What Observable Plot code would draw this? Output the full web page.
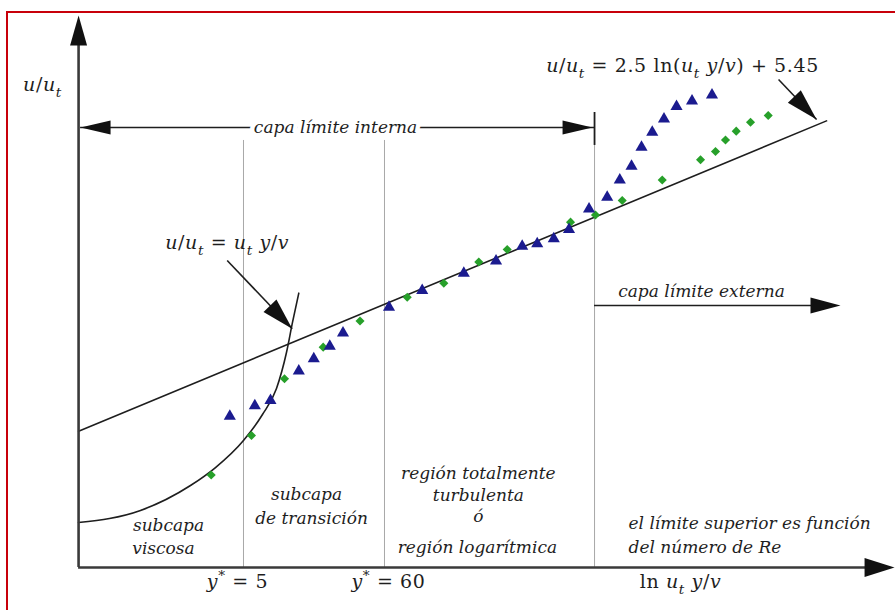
<!DOCTYPE html>
<html>
<head>
<meta charset="utf-8">
<script src="https://cdn.jsdelivr.net/npm/d3@7"></script>
<script src="https://cdn.jsdelivr.net/npm/@observablehq/plot@0.6"></script>
<style>
  html, body { margin: 0; padding: 0; background: #fff; overflow: hidden; width: 895px; height: 610px; }
  #wrap { position: relative; width: 895px; height: 610px; }
  #wrap svg { position: absolute; left: 0; top: 0; }
  #border { position: absolute; left: 6px; top: 11px; width: 905px; height: 620px;
            border: 2px solid #c8000a; pointer-events: none; z-index: 2; }
</style>
</head>
<body>
<div id="wrap"><div id="border"></div></div>
<script>
// Law of the wall: u/u_t against ln(u_t y / v)
// x = ln(y+), y = u+

// log-law constants (also written into the equation label)
const logSlope = 2.5;
const logIntercept = 5.45;

// sublayer limits in y+
const yPlusLimits = [5, 60];
// inner / outer layer boundary, in ln(y+)
const outerStart = 7.796;

// measured profile, series 1 (triangles)
const triX = [1.368, 1.809, 2.085, 2.584, 2.848, 3.130, 3.363, 4.174, 4.759, 5.492, 6.060, 6.521, 6.786,
              7.078, 7.346, 7.699, 8.019, 8.241, 8.448, 8.624, 8.813, 9.020, 9.241, 9.514, 9.866];
const triU = [3.81, 4.92, 5.48, 8.61, 9.90, 11.24, 12.64, 15.38, 17.15, 18.99, 20.29, 21.86, 22.11,
              22.64, 23.63, 25.81, 27.06, 28.89, 30.35, 32.37, 33.96, 35.36, 36.69, 37.27, 37.91];

// measured profile, series 2 (diamonds)
const diaX = [1.040, 1.750, 2.332, 3.014, 3.663, 4.495, 5.140, 5.756, 6.257, 7.373, 7.813, 8.284,
              8.989, 9.664, 9.928, 10.104, 10.293, 10.545, 10.857];
const diaU = [-2.43, 1.76, 7.78, 11.14, 13.92, 16.44, 17.93, 20.18, 21.51, 24.41, 25.17, 26.71,
              28.89, 31.03, 31.91, 33.13, 34.07, 35.02, 35.73];

// viscous sublayer curve u/u_t = u_t y / v (sketched)
const viscX = [-1.299, -0.206, 0.675, 1.116, 1.609, 1.944, 2.191, 2.367, 2.473, 2.584];
const viscU = [-7.47, -6.20, -3.55, -1.64, 1.23, 3.99, 6.75, 10.57, 13.76, 16.87];

// extent of the log-law line in ln(y+)
const logLawRange = [-1.297, 11.884];

// text
const eqLog = `u/uₜ = ${logSlope} ln(uₜ y/v) + ${logIntercept}`;
const eqVisc = "u/uₜ = uₜ y/v";
const yLabel = "u/uₜ";
const xLabel = "ln uₜ y/v";
const tickLabels = yPlusLimits.map(v => `y* = ${v}`);
const innerLabel = "capa límite interna";
const outerLabel = "capa límite externa";
const regionLines = ["subcapa", "viscosa", "subcapa", "de transición",
                     "región totalmente", "turbulenta", "ó", "región logarítmica"];
const outerNote = ["el límite superior es función", "del número de Re"];

// annotation anchors (x = ln y+, y = u+)
const regionAnchors = [[0.288, -7.79], [0.199, -10.23], [2.720, -4.50], [2.808, -7.05],
                       [5.749, -2.27], [5.749, -4.61], [5.749, -6.84], [5.731, -10.12]];
const noteAnchors = [[8.395, -7.58], [8.395, -10.12]];

// frame of the sketch
const axisOrigin = [-1.297, -12.25];
const axisEnds = { yTop: 44.0, yTip: 46.35, xEnd: 12.59, xTip: 13.083 };
const gridTop = 33.08;
const innerArrowU = 34.46;
const outerArrowU = 15.56;

const lawData = logLawRange.map(x => ({x, u: logSlope * x + logIntercept}));
const triData = triX.map((x, i) => ({x, u: triU[i]}));
const diaData = diaX.map((x, i) => ({x, u: diaU[i]}));
const viscData = viscX.map((x, i) => ({x, u: viscU[i]}));
const regionData = regionLines.map((t, i) => ({t, x: regionAnchors[i][0], u: regionAnchors[i][1]}));
const noteData = outerNote.map((t, i) => ({t, x: noteAnchors[i][0], u: noteAnchors[i][1]}));

// filled arrowhead whose tip sits on the anchor, pointing up before rotation
function head(len, wid) {
  return {
    draw(ctx) {
      ctx.moveTo(0, 0);
      ctx.lineTo(wid / 2, len);
      ctx.lineTo(-wid / 2, len);
      ctx.closePath();
    }
  };
}

const ink = "#1e1e1e";
const axisInk = "#3a3a3a";
const grid = "#a8a8a8";
const serif = "DejaVu Serif, Liberation Serif, serif";
const mathSize = 19;
const labelSize = 17;

const [x0, u0] = axisOrigin;

const chart = Plot.plot({
  width: 895,
  height: 610,
  margin: 0,
  x: {domain: [-2.673, 13.100], range: [0, 895], axis: null},
  y: {domain: [-16.82, 47.94], range: [610, 0], axis: null},
  style: {background: "transparent"},
  marks: [
    // region dividers
    Plot.ruleX(yPlusLimits.map(Math.log), {y1: u0, y2: gridTop, stroke: grid, strokeWidth: 1}),
    Plot.ruleX([outerStart], {y1: u0, y2: 32.55, stroke: grid, strokeWidth: 1}),
    Plot.ruleX([outerStart], {y1: 32.55, y2: 36.05, stroke: ink, strokeWidth: 1.8}),

    // log law and viscous sublayer
    Plot.line(lawData, {x: "x", y: "u", stroke: ink, strokeWidth: 1.6}),
    Plot.line(viscData, {x: "x", y: "u", stroke: ink, strokeWidth: 1.6, curve: "monotone-x"}),

    // axes
    Plot.ruleX([x0], {y1: u0, y2: axisEnds.yTop, stroke: axisInk, strokeWidth: 2.6}),
    Plot.ruleY([u0], {x1: x0, x2: axisEnds.xEnd, stroke: axisInk, strokeWidth: 2.6}),
    Plot.dot([[x0, axisEnds.yTip]], {x: d => d[0], y: d => d[1], symbol: head(30, 17), r: 5, fill: "#111", stroke: "none"}),
    Plot.dot([[axisEnds.xTip, u0]], {x: d => d[0], y: d => d[1], symbol: head(30, 19), r: 5, fill: "#111", stroke: "none", rotate: 90}),

    // inner layer span
    Plot.ruleY([innerArrowU], {x1: -1.262, x2: outerStart, stroke: ink, strokeWidth: 1.6}),
    Plot.dot([[-1.262, innerArrowU]], {x: d => d[0], y: d => d[1], symbol: head(30, 14), r: 5, fill: "#111", stroke: "none", rotate: 270}),
    Plot.dot([[7.761, innerArrowU]], {x: d => d[0], y: d => d[1], symbol: head(30, 14), r: 5, fill: "#111", stroke: "none", rotate: 90}),
    Plot.text([innerLabel], {x: 3.231, y: innerArrowU, text: d => d, fontFamily: serif, fontStyle: "italic",
      fontSize: labelSize, fill: ink, stroke: "white", strokeWidth: 9}),

    // outer layer span
    Plot.ruleY([outerArrowU], {x1: outerStart, x2: 12.0, stroke: ink, strokeWidth: 1.6}),
    Plot.dot([[12.131, outerArrowU]], {x: d => d[0], y: d => d[1], symbol: head(30, 16), r: 5, fill: "#111", stroke: "none", rotate: 90}),
    Plot.text([outerLabel], {x: 9.681, y: 17.03, text: d => d, fontFamily: serif, fontStyle: "italic",
      fontSize: labelSize, fill: ink}),

    // equation pointers
    Plot.link([[11.039, 39.55, 11.709, 35.30], [1.322, 20.34, 2.468, 13.09]],
      {x1: d => d[0], y1: d => d[1], x2: d => d[2], y2: d => d[3], stroke: ink, strokeWidth: 1.6}),
    Plot.dot([[11.709, 35.30], [2.468, 13.09]], {x: d => d[0], y: d => d[1], symbol: head(32, 18), r: 5,
      fill: "#111", stroke: "none", rotate: 136}),

    // measurements
    Plot.dot(diaData, {x: "x", y: "u", symbol: "diamond2", r: 4.1, fill: "#27a02a", stroke: "none"}),
    Plot.dot(triData, {x: "x", y: "u", symbol: "triangle", r: 4.5, fill: "#1b1b8f", stroke: "none"}),

    // region captions
    Plot.text(regionData, {x: "x", y: "u", text: "t", fontFamily: serif, fontStyle: "italic", fontSize: labelSize, fill: ink}),
    Plot.text(noteData, {x: "x", y: "u", text: "t", textAnchor: "start", fontFamily: serif, fontStyle: "italic", fontSize: labelSize, fill: ink}),

    // formulas and axis labels
    Plot.text([eqLog], {x: 9.346, y: 41.04, text: d => d, fontFamily: serif, fontSize: mathSize, fill: ink, ariaDescription: "math"}),
    Plot.text([eqVisc], {x: 1.322, y: 22.25, text: d => d, fontFamily: serif, fontSize: mathSize, fill: ink, ariaDescription: "math"}),
    Plot.text([yLabel], {x: -1.933, y: 39.02, text: d => d, fontFamily: serif, fontSize: mathSize, fill: ink, ariaDescription: "math"}),
    Plot.text([xLabel], {x: 9.311, y: -13.74, text: d => d, fontFamily: serif, fontSize: mathSize, fill: ink, ariaDescription: "math"}),
    Plot.text(yPlusLimits.map((v, i) => ({t: tickLabels[i], x: [1.504, 4.165][i]})), {x: "x", y: -13.74, text: "t",
      fontFamily: serif, fontSize: mathSize, fill: ink, ariaDescription: "math"})
  ]
});

// set variables in italic, with subscripts and superscripts
const NS = "http://www.w3.org/2000/svg";
d3.select(chart).selectAll('g[aria-description="math"] text').each(function () {
  const el = this;
  const s = el.textContent;
  const base = mathSize;
  el.textContent = "";
  el.style.whiteSpace = "pre";
  el.setAttribute("letter-spacing", "0.6px");
  let shift = 0;
  for (const ch of s) {
    const t = document.createElementNS(NS, "tspan");
    let target = 0;
    if (ch === "ₜ") {
      t.textContent = "t";
      t.setAttribute("font-style", "italic");
      t.setAttribute("font-size", (base * 0.72) + "px");
      target = base * 0.32;
    } else if (ch === "*") {
      t.textContent = "*";
      t.setAttribute("font-size", (base * 0.72) + "px");
      target = -base * 0.4;
    } else {
      t.textContent = ch;
      if ("uyv".includes(ch)) t.setAttribute("font-style", "italic");
    }
    if (target !== shift) {
      t.setAttribute("dy", (target - shift) + "px");
      shift = target;
    }
    el.appendChild(t);
  }
});

document.getElementById("wrap").appendChild(chart);
</script>
</body>
</html>
